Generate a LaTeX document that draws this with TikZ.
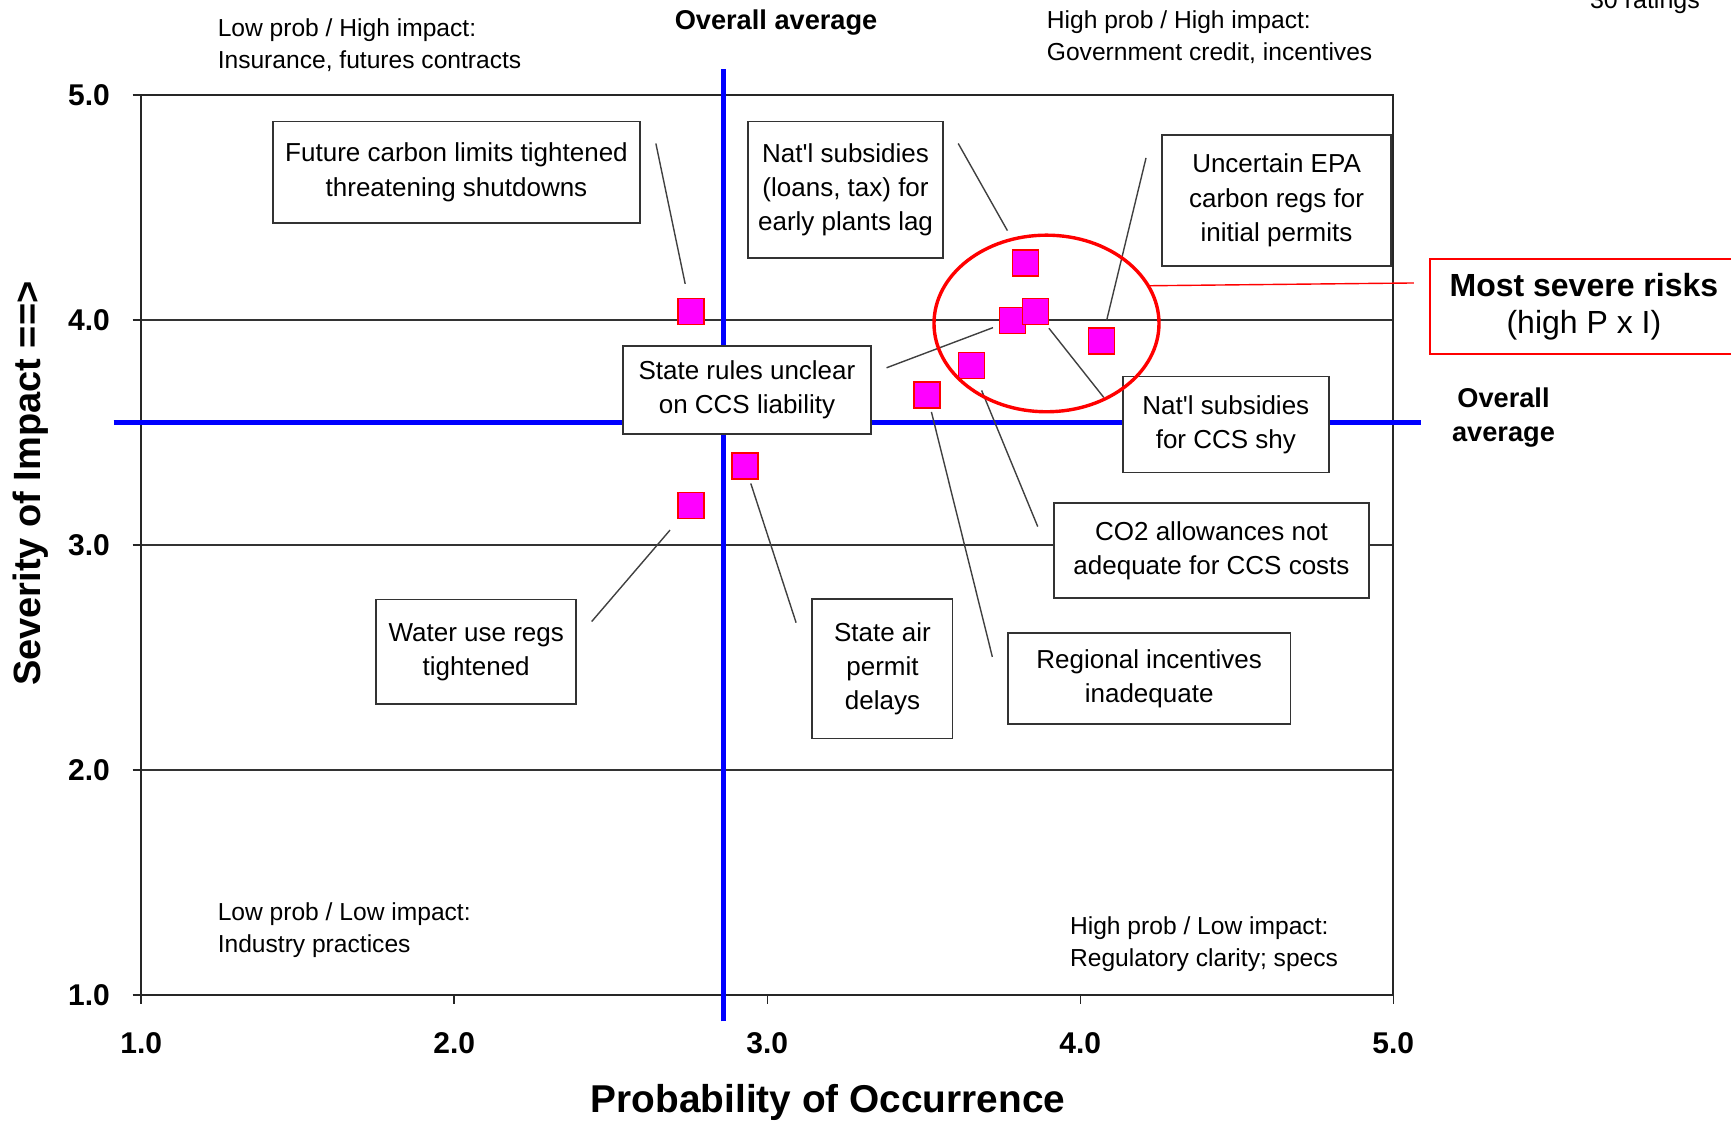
\documentclass[tikz,border=0pt]{standalone}
\usepackage{fontspec}
\setmainfont{Liberation Sans}
\usepackage{tikz}
\usetikzlibrary{shapes.geometric}
\definecolor{avgblue}{RGB}{0,0,255}
\definecolor{dotpink}{RGB}{255,0,255}
\definecolor{framegray}{RGB}{51,51,51}
\tikzset{
    riskbox/.style={
        draw=framegray,
        line width=0.9pt,
        fill=white,
        align=center,
        inner sep=2pt,
        font=\fontsize{13}{17.1}\selectfont
    },
    riskdot/.style={
        draw=red,
        fill=dotpink,
        line width=0.8pt,
        minimum size=13pt,
        inner sep=0pt
    },
    leader/.style={
        draw=black!75,
        line width=0.7pt
    },
    avgline/.style={
        draw=avgblue,
        line width=2.6pt
    },
    quadtext/.style={
        align=left,
        anchor=west,
        inner sep=0pt,
        font=\fontsize{12.3}{16}\selectfont
    },
    ticklabel/.style={
        font=\fontsize{15}{18}\selectfont\bfseries
    }
}

\begin{document}
\begin{tikzpicture}[x=156.5pt, y=112.475pt]
  \useasboundingbox (0.5486,0.443) rectangle (6.0789,5.4220);

  % grid, frame and ticks
  \foreach \sy in {2,3,4} {
    \draw[black!80, line width=0.8pt] (1,\sy) -- (5,\sy);
  }
  \draw[black!85, line width=1pt] (1,1) rectangle (5,5);
  \foreach \v in {1,...,5} {
    \draw[black!85, line width=0.8pt] (0.972,\v) -- (1,\v);
    \draw[black!85, line width=0.8pt] (\v,1) -- (\v,0.961);
    \node[ticklabel, anchor=east] (y\v) at (0.922,\v) {\v.0};
    \node[ticklabel] (x\v) at (\v,0.784) {\v.0};
  }

  % overall averages
  \draw[avgline] (2.859,0.882) -- (2.859,5.117);
  \draw[avgline] (0.912,3.542) -- (5.088,3.542);

  \node[font=\fontsize{13.6}{16}\selectfont\bfseries] (avgtop) at (3.028,5.322) {Overall average};
  \node[align=center, font=\fontsize{13.6}{17}\selectfont\bfseries] (avgright) at (5.352,3.566) {Overall\\average};
  \node[anchor=base, font=\fontsize{12.5}{15}\selectfont] (nratings) at (5.804,5.386) {30 ratings};

  % axis titles
  \node[font=\fontsize{19.4}{22}\selectfont\bfseries] (xtitle) at (3.194,0.519) {Probability of Occurrence};
  \node[rotate=90, font=\fontsize{19}{22}\selectfont\bfseries] (ytitle) at (0.647,3.272) {Severity of Impact ==>};

  % quadrants
  \node[quadtext] (q-lh) at (1.243,5.223) {Low prob / High impact:\\Insurance, futures contracts};
  \node[quadtext] (q-hh) at (3.892,5.257) {High prob / High impact:\\Government credit, incentives};
  \node[quadtext] (q-ll) at (1.243,1.287) {Low prob / Low impact:\\Industry practices};
  \node[quadtext] (q-hl) at (3.966,1.223) {High prob / Low impact:\\Regulatory clarity; specs};

  % ratings
  \foreach \id/\px/\sy in {fc/2.756/4.038, water/2.756/3.174, air/2.929/3.351,
                           region/3.511/3.665, co2/3.652/3.797, state/3.783/3.998,
                           shy/3.857/4.038, loans/3.825/4.254, epa/4.068/3.905} {
    \node[riskdot] (m-\id) at (\px,\sy) {};
  }

  % leader lines
  \coordinate (t-fc) at (2.644,4.784);
  \coordinate (t-loans) at (3.610,4.784);
  \coordinate (t-epa) at (4.210,4.720);
  \coordinate (t-state) at (3.381,3.787);
  \coordinate (t-shy) at (4.075,3.655);
  \coordinate (t-co2) at (3.864,3.081);
  \coordinate (t-region) at (3.719,2.502);
  \coordinate (t-water) at (2.439,2.659);
  \coordinate (t-air) at (3.092,2.654);

  \foreach \id/\gap in {fc/7pt, loans/10.5pt, epa/3.5pt, state/3pt, shy/2pt,
                        co2/6pt, region/1.5pt, water/7pt, air/2pt} {
    \draw[leader, shorten >=\gap] (t-\id) -- (m-\id);
  }

  % risk boxes
  \node[riskbox, minimum width=183.8pt, minimum height=50.8pt] (b-fc) at (2.007,4.656) {Future carbon limits tightened\\threatening shutdowns};
  \node[riskbox, minimum width=97.2pt, minimum height=68.4pt] (b-loans) at (3.250,4.578) {Nat\textquotesingle l subsidies\\(loans, tax) for\\early plants lag};
  \node[riskbox, minimum width=114.3pt, minimum height=65.7pt] (b-epa) at (4.627,4.531) {Uncertain EPA\\carbon regs for\\initial permits};
  \node[riskbox, minimum width=124.2pt, minimum height=44.2pt] (b-state) at (2.935,3.689) {State rules unclear\\on CCS liability};
  \node[riskbox, minimum width=103.2pt, minimum height=48pt] (b-shy) at (4.465,3.535) {Nat\textquotesingle l subsidies\\for CCS shy};
  \node[riskbox, minimum width=157.3pt, minimum height=47.5pt] (b-co2) at (4.419,2.973) {CO2 allowances not\\adequate for CCS costs};
  \node[riskbox, minimum width=99.9pt, minimum height=52.4pt] (b-water) at (2.070,2.524) {Water use regs\\tightened};
  \node[riskbox, minimum width=70.1pt, minimum height=69.6pt] (b-air) at (3.368,2.448) {State air\\permit\\delays};
  \node[riskbox, minimum width=141.3pt, minimum height=45.8pt] (b-region) at (4.220,2.406) {Regional incentives\\inadequate};

  % most severe cluster
  \node[ellipse, draw=red, line width=1.7pt, minimum width=112.5pt, minimum height=88.3pt, inner sep=0pt] (hot) at (3.892,3.984) {};
  \node[draw=red, line width=1pt, fill=white, align=center, minimum width=154pt, minimum height=47.5pt,
        font=\fontsize{16}{18.8}\selectfont] (severe) at (5.609,4.059) {\textbf{Most severe risks}\\(high P x I)};
  \coordinate (sevtip) at (5.066,4.164);
  \draw[red, line width=0.7pt] (hot.20) -- (sevtip);
\end{tikzpicture}
\end{document}
